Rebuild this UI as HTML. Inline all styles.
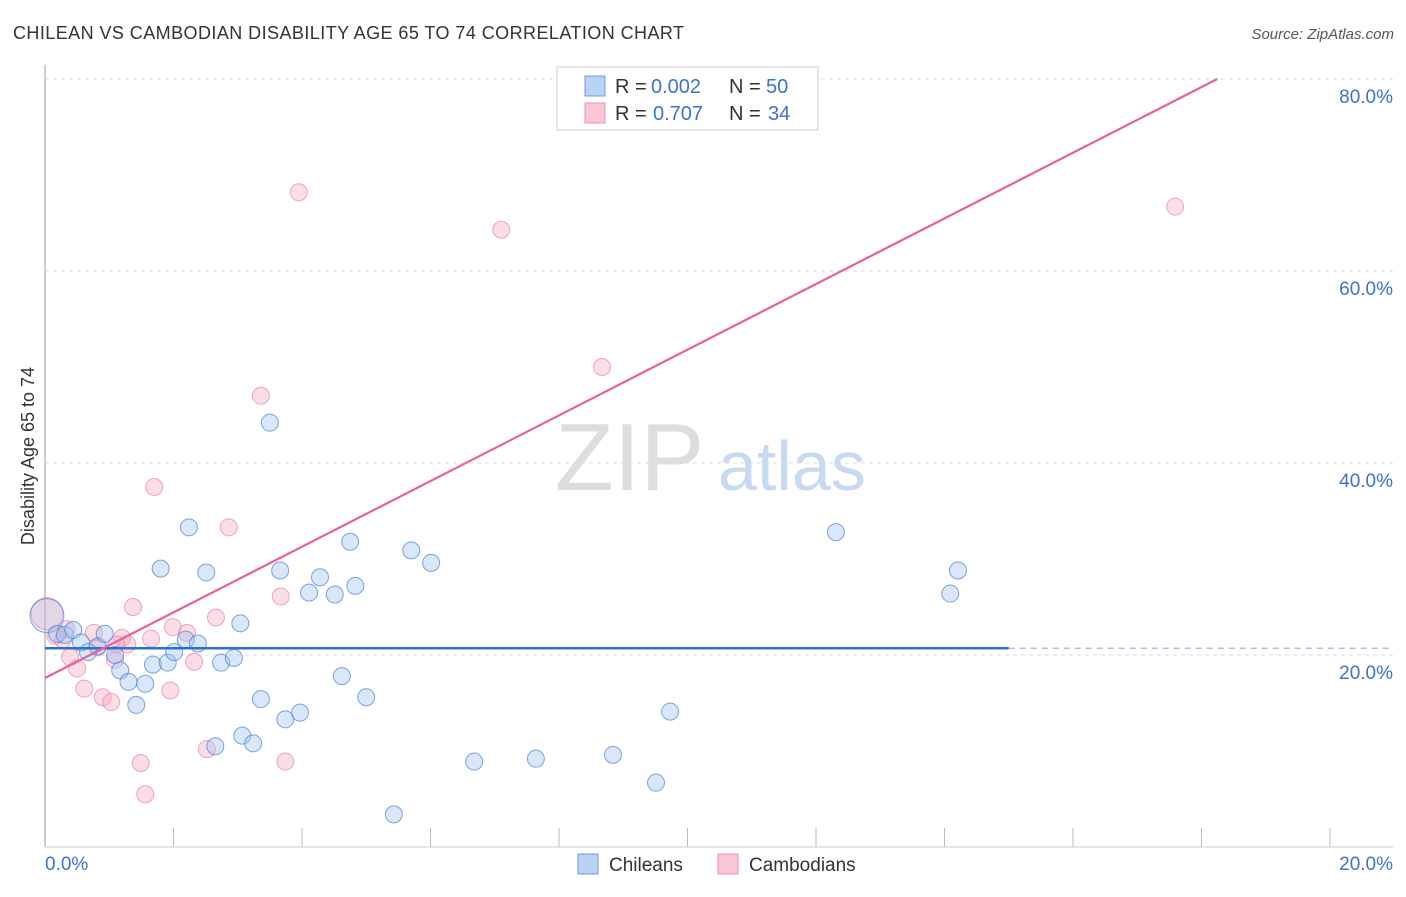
<!DOCTYPE html>
<html><head><meta charset="utf-8"><style>
body{margin:0;background:#fff;font-family:"Liberation Sans",sans-serif;}
svg text{font-family:"Liberation Sans",sans-serif;}
</style></head><body>
<svg id="c" width="1406" height="892">
<text x="13" y="39" font-size="18" fill="#333" textLength="671">CHILEAN VS CAMBODIAN DISABILITY AGE 65 TO 74 CORRELATION CHART</text>
<text x="1394" y="39" font-size="15" fill="#555" text-anchor="end" font-style="italic">Source: ZipAtlas.com</text>
<text x="34" y="456" font-size="18" fill="#333" text-anchor="middle" transform="rotate(-90 34 456)">Disability Age 65 to 74</text>
<g id="grid"></g>
<text x="555" y="490" font-size="96" fill="#ddd" font-family="Liberation Serif">ZIP</text>
<text x="718" y="490" font-size="70" fill="#c8daf2">atlas</text>
<g id="pts"></g>
<g id="lines"></g>
<g>
<rect x="557" y="67" width="261" height="63" fill="#fff" stroke="#ccc"/>
<rect x="585" y="76" width="20" height="20" fill="#b8d3f5" stroke="#6d9de0"/>
<rect x="585" y="103" width="20" height="20" fill="#f9c6d6" stroke="#ee93b2"/>
<text x="615" y="93" font-size="20" fill="#333">R =</text>
<text x="651" y="93" font-size="20" fill="#3a73d0">0.002</text>
<text x="729" y="93" font-size="20" fill="#333">N =</text>
<text x="766" y="93" font-size="20" fill="#3a73d0">50</text>
<text x="615" y="120" font-size="20" fill="#333">R =</text>
<text x="653" y="120" font-size="20" fill="#3a73d0">0.707</text>
<text x="729" y="120" font-size="20" fill="#333">N =</text>
<text x="768" y="120" font-size="20" fill="#3a73d0">34</text>
</g>
<g>
<rect x="578" y="854" width="20" height="20" fill="#b8d3f5" stroke="#6d9de0"/>
<text x="609" y="871" font-size="19" fill="#333">Chileans</text>
<rect x="718" y="854" width="20" height="20" fill="#f9c6d6" stroke="#ee93b2"/>
<text x="749" y="871" font-size="19" fill="#333">Cambodians</text>
</g>
</svg>
<script>
const yTicks=[20,40,60,80];
const xTickLabels=["0.0%","20.0%"];
const chileX=[0.03,0.19,0.31,0.44,0.56,0.82,0.93,0.67,1.09,1.17,1.3,1.42,1.56,1.68,1.91,1.8,2.01,2.19,2.24,2.38,2.51,2.65,2.74,2.94,3.04,3.07,3.24,3.36,3.5,3.66,3.74,3.97,4.11,4.28,4.51,4.62,4.75,4.83,5.0,5.43,5.7,6.01,6.68,7.64,8.84,9.51,9.73,12.31,14.09,14.21];
const chileY=[24.1,22.2,22.1,22.6,21.3,20.9,22.2,20.3,20.0,18.4,17.2,14.8,17.0,19.0,19.2,29.0,20.3,21.6,33.3,21.2,28.6,10.5,19.2,19.7,23.3,11.6,10.8,15.4,44.2,28.8,13.3,14.0,26.5,28.1,26.3,17.8,31.8,27.2,15.6,3.4,30.9,29.6,8.9,9.2,9.6,6.7,14.1,32.8,26.4,28.8];
const cambX=[0.03,0.16,0.28,0.39,0.5,0.61,0.76,0.9,1.03,1.09,1.2,1.28,1.37,1.49,1.56,1.65,1.7,1.95,1.99,2.21,2.32,2.52,2.66,2.86,3.36,3.67,3.74,3.95,7.1,8.67,17.59,0.33,0.82,1.11];
const cambY=[24.3,22.0,21.6,19.8,18.6,16.5,22.3,15.6,15.1,19.5,21.8,21.1,25.0,8.75,5.5,21.7,37.5,16.3,22.9,22.3,19.3,10.2,23.9,33.3,47.0,26.1,8.9,68.2,64.3,50.0,66.7,22.7,20.8,21.1];
const chileFit=[20.7,20.7];
const cambFit=[17.6,3.42];
const X=v=>45+v/20*1285, Y=v=>847-v*9.6;
const NS="http://www.w3.org/2000/svg";
function mk(tag,a,parent){const e=document.createElementNS(NS,tag);for(const k in a)e.setAttribute(k,a[k]);parent.appendChild(e);return e;}
const grid=document.getElementById('grid');
const gl=mk('line',{x1:45,y1:Y(81.5),x2:45,y2:847,stroke:'#bbb','stroke-width':1.5},grid);

const xl=mk('line',{x1:45,y1:847,x2:1393,y2:847,stroke:'#ccc'},grid);

yTicks.forEach(t=>{
 const l=mk('line',{x1:45,y1:Y(t),x2:1393,y2:Y(t),stroke:'#ddd','stroke-dasharray':'4,4'},grid);
 
 const tx=mk('text',{x:1393,y:Y(t)+24,'font-size':19,fill:'#3a73d0','text-anchor':'end'},grid);
 tx.textContent=t.toFixed(1)+'%';
 
});
for(let i=0;i<=10;i++){
 const t=mk('line',{x1:X(i*2),y1:828,x2:X(i*2),y2:847,stroke:'#bbb'},grid);
 
}
[[45,'start'],[1393,'end']].forEach((p,i)=>{
 const tx=mk('text',{x:p[0],y:870,'font-size':19,fill:'#3a73d0','text-anchor':p[1]},grid);
 tx.textContent=xTickLabels[i];
 
});
const pts=document.getElementById('pts');
cambX.forEach((x,i)=>{
 const c=mk('circle',{cx:X(x),cy:Y(cambY[i]),r:i==0?16:8.5,fill:'rgba(246,170,195,0.4)',stroke:'rgba(236,130,165,0.7)'},pts);
 
});
chileX.forEach((x,i)=>{
 const c=mk('circle',{cx:X(x),cy:Y(chileY[i]),r:i==0?17:8.5,fill:i==0?'rgba(160,195,240,0.25)':'rgba(160,195,240,0.4)',stroke:'rgba(70,130,215,0.7)'},pts);
 
});
const lines=document.getElementById('lines');
const b=mk('line',{x1:X(0),y1:Y(chileFit[0]),x2:X(15),y2:Y(chileFit[1]),stroke:'#2f6fd0','stroke-width':2.5},lines);

const bd=mk('line',{x1:X(15),y1:Y(chileFit[1]),x2:1393,y2:Y(chileFit[1]),stroke:'#9bb8e0','stroke-width':1.2,'stroke-dasharray':'6,5'},lines);

const xEnd=(80-cambFit[0])/cambFit[1];
const p=mk('line',{x1:X(0),y1:Y(cambFit[0]),x2:X(xEnd),y2:Y(80),stroke:'#e8638f','stroke-width':2.2},lines);

</script>
</body></html>
